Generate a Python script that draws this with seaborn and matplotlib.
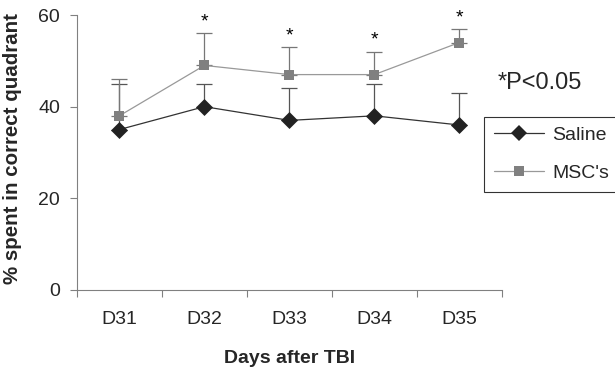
import numpy as np
import pandas as pd
import seaborn as sns
import matplotlib.pyplot as plt
from matplotlib.lines import Line2D

# values
days = ["D31", "D32", "D33", "D34", "D35"]
saline_mean = [35, 40, 37, 38, 36]
saline_err = [10, 5, 7, 7, 7]
msc_mean = [38, 49, 47, 47, 54]
msc_err = [8, 7, 6, 5, 3]
signif = [False, True, True, True, True]

sns.set_theme(style="white")
plt.rcParams["font.family"] = ["Liberation Sans", "DejaVu Sans"]

df = pd.DataFrame({
    "day": list(range(len(days))) * 2,
    "value": saline_mean + msc_mean,
    "group": ["Saline"] * len(days) + ["MSC's"] * len(days),
})

fig = plt.figure(figsize=(6.15, 3.76), dpi=100)
ax = fig.add_axes([0.125, 0.229, 0.691, 0.731])

x = np.arange(len(days))
# one-sided error bars (upper only)
ax.errorbar(x, saline_mean, yerr=[np.zeros(len(days)), saline_err], fmt="none",
            ecolor="#555555", elinewidth=0.9, capsize=6, capthick=0.9, zorder=2)
ax.errorbar(x, msc_mean, yerr=[np.zeros(len(days)), msc_err], fmt="none",
            ecolor="#777777", elinewidth=0.9, capsize=6, capthick=0.9, zorder=2)

line_colors = {"Saline": "#333333", "MSC's": "#999999"}
sns.lineplot(data=df, x="day", y="value", hue="group", style="group",
             markers=False, dashes=False, palette=line_colors, linewidth=0.9,
             ax=ax, zorder=3, legend=False)
# markers drawn separately so line and marker can differ in tone
ax.scatter(x, saline_mean, marker="D", s=75, color="#222222", linewidths=0, zorder=4)
ax.scatter(x, msc_mean, marker="s", s=60, color="#808080", linewidths=0, zorder=4)

# significance stars
for i, s in enumerate(signif):
    if s:
        ax.text(x[i], msc_mean[i] + msc_err[i] + 0.6, "*", ha="center", va="bottom",
                fontsize=14, color="black")

ax.set_xlim(-0.5, len(days) - 0.5)
ax.set_ylim(0, 60)
ax.set_yticks([0, 20, 40, 60])
ax.set_xticks(np.arange(-0.5, len(days), 1.0))
ax.set_xticklabels([])
ax.set_xticks(x, minor=True)
ax.set_xticklabels(days, minor=True)
ax.tick_params(axis="x", which="major", direction="out", length=5, color="#808080", width=0.8, bottom=True)
ax.tick_params(axis="x", which="minor", length=0, labelsize=14, pad=15)
ax.tick_params(axis="y", direction="out", length=5, color="#808080", width=0.8,
               labelsize=14, left=True, pad=7)

for sp in ["top", "right"]:
    ax.spines[sp].set_visible(False)
for sp in ["left", "bottom"]:
    ax.spines[sp].set_color("#808080")
    ax.spines[sp].set_linewidth(0.8)

ax.set_xlabel("Days after TBI", fontsize=14, fontweight="bold", labelpad=16)
ax.set_ylabel("% spent in correct quadrant", fontsize=14.8, fontweight="bold")
ax.yaxis.set_label_coords(-0.13, 0.515)

fig.text(0.81, 0.779, "*P<0.05", fontsize=17, ha="left", va="center")

handles = [
    Line2D([], [], color=line_colors["Saline"], marker="D", markersize=8, linewidth=0.9,
           markerfacecolor="#222222", markeredgewidth=0),
    Line2D([], [], color=line_colors["MSC's"], marker="s", markersize=7, linewidth=0.9,
           markerfacecolor="#808080", markeredgewidth=0),
]
leg = fig.legend(handles, ["Saline", "MSC's"], loc="upper left",
                 bbox_to_anchor=(0.787, 0.69), fontsize=14, frameon=True,
                 fancybox=False, edgecolor="black", handlelength=2.6,
                 borderpad=0.5, labelspacing=1.05, handletextpad=0.4,
                 borderaxespad=0)
leg.get_frame().set_linewidth(0.8)

plt.savefig("out.png", dpi=100)
